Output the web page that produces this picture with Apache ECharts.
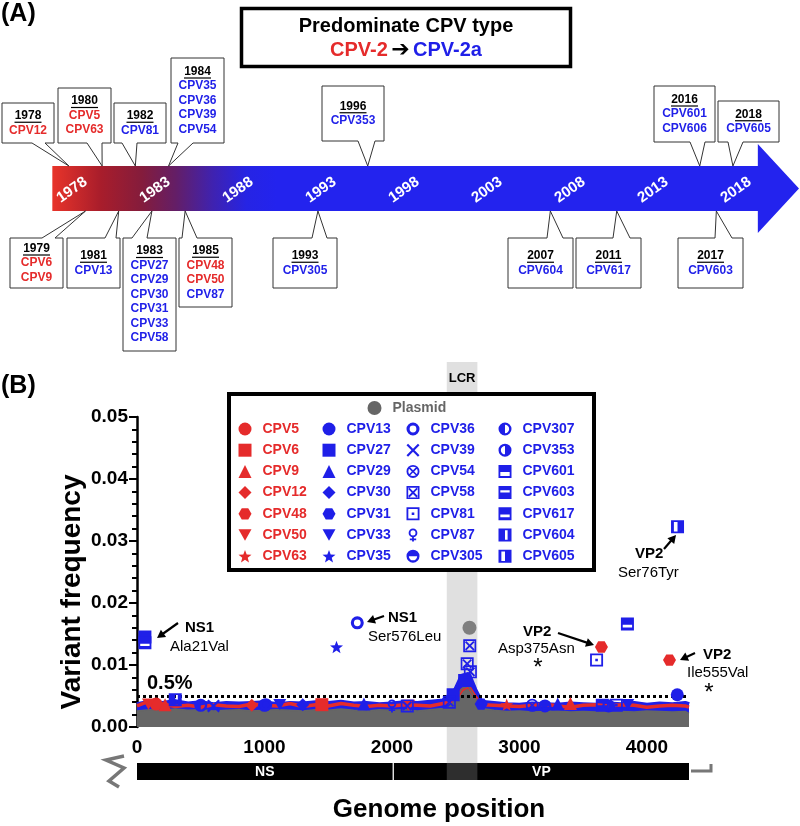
<!DOCTYPE html>
<html><head><meta charset="utf-8">
<script src="https://cdn.jsdelivr.net/npm/echarts@6/dist/echarts.min.js"></script>
<style>html,body{margin:0;padding:0;background:#fff}#c{width:800px;height:826px}</style>
</head><body><div id="c"></div>
<script>
// ================= DATA =================
// Panel A: timeline
const timelineSpan = [1977, 2019.5];
const timelineYears = [1978, 1983, 1988, 1993, 1998, 2003, 2008, 2013, 2018];
const calloutYears = [1978, 1980, 1982, 1984, 1996, 2016, 2018, 1979, 1981, 1983, 1985, 1993, 2007, 2011, 2017];
const calloutStrains = [
  ['CPV12'], ['CPV5', 'CPV63'], ['CPV81'], ['CPV35', 'CPV36', 'CPV39', 'CPV54'], ['CPV353'],
  ['CPV601', 'CPV606'], ['CPV605'], ['CPV6', 'CPV9'], ['CPV13'],
  ['CPV27', 'CPV29', 'CPV30', 'CPV31', 'CPV33', 'CPV58'], ['CPV48', 'CPV50', 'CPV87'],
  ['CPV305'], ['CPV604'], ['CPV617'], ['CPV603']
];
const cpv2Strains = ['CPV5', 'CPV6', 'CPV9', 'CPV12', 'CPV48', 'CPV50', 'CPV63'];

// Panel B: samples
const sampleNames = ['CPV5','CPV6','CPV9','CPV12','CPV48','CPV50','CPV63',
  'CPV13','CPV27','CPV29','CPV30','CPV31','CPV33','CPV35',
  'CPV36','CPV39','CPV54','CPV58','CPV81','CPV87','CPV305',
  'CPV307','CPV353','CPV601','CPV603','CPV617','CPV604','CPV605'];
// individual variant points (sample, genome position, frequency)
const pointSample = ['CPV601','CPV617','CPV35','CPV36','CPV58','CPV58','CPV58','CPV81','CPV48','CPV48','CPV617','CPV13','CPV605','CPV604',
  'CPV5','CPV6','CPV9','CPV9','CPV12','CPV50','CPV50','CPV63','CPV13','CPV27','CPV27','CPV29','CPV29','CPV30','CPV31','CPV33','CPV33',
  'CPV36','CPV39','CPV54','CPV58','CPV58','CPV81','CPV87','CPV305','CPV307','CPV353','CPV603'];
const pointPos = [62, 62, 1565, 1728, 2610, 2590, 2615, 3605, 3643, 4177, 3847, 4238, 4240, 300,
  150, 1450, 220, 3400, 900, 90, 2130, 2900, 1000, 2570, 2480, 1780, 3300, 1300, 2700, 1120, 3850,
  1010, 600, 3100, 2120, 2450, 3760, 2000, 3200, 500, 3700, 3650];
const pointVal = [0.0145, 0.0136, 0.0129, 0.0168, 0.0131, 0.0102, 0.0089, 0.0108, 0.0129, 0.0108, 0.0166, 0.0052, 0.0323, 0.0044,
  0.0037, 0.0036, 0.0036, 0.0038, 0.0035, 0.0037, 0.0035, 0.0036, 0.0035, 0.0075, 0.0052, 0.0037, 0.0037, 0.0036, 0.0037, 0.0036, 0.0036,
  0.0036, 0.0034, 0.0035, 0.0034, 0.0040, 0.0035, 0.0034, 0.0034, 0.0035, 0.0034, 0.0035];
const plasmidPointPos = [2608];
const plasmidPointVal = [0.0160];
// background noise envelopes along the genome
const noisePos = [0,100,200,300,400,500,600,700,800,900,1000,1100,1200,1300,1400,1500,1600,1700,1800,1900,2000,2100,2200,2300,2400,2450,2500,2550,2600,2650,2700,2800,2900,3000,3100,3200,3300,3400,3500,3600,3700,3800,3900,4000,4100,4200,4300,4330];
const plasmidVal = [0.0026,0.0028,0.0027,0.0029,0.0027,0.0028,0.0026,0.0027,0.0028,0.0026,0.0027,0.0028,0.0027,0.0026,0.0028,0.0027,0.0029,0.0027,0.0026,0.0028,0.0027,0.0028,0.0026,0.0028,0.0030,0.0032,0.0045,0.0062,0.0066,0.0048,0.0030,0.0027,0.0025,0.0026,0.0024,0.0025,0.0026,0.0024,0.0025,0.0024,0.0026,0.0025,0.0024,0.0026,0.0025,0.0024,0.0025,0.0022];
const blueNoiseVal = [0.0036,0.0040,0.0038,0.0041,0.0037,0.0039,0.0036,0.0038,0.0037,0.0038,0.0039,0.0036,0.0038,0.0037,0.0039,0.0038,0.0040,0.0037,0.0038,0.0036,0.0037,0.0039,0.0038,0.0040,0.0042,0.0050,0.0060,0.0082,0.0085,0.0060,0.0040,0.0038,0.0036,0.0035,0.0037,0.0036,0.0035,0.0037,0.0036,0.0035,0.0037,0.0036,0.0038,0.0035,0.0037,0.0036,0.0038,0.0036];
const redNoiseVal = [0.0034,0.0042,0.0037,0.0033,0.0035,0.0032,0.0036,0.0034,0.0033,0.0037,0.0035,0.0034,0.0038,0.0033,0.0036,0.0034,0.0038,0.0035,0.0033,0.0035,0.0034,0.0036,0.0035,0.0034,0.0038,0.0040,0.0045,0.0060,0.0066,0.0050,0.0036,0.0035,0.0034,0.0033,0.0035,0.0037,0.0034,0.0032,0.0035,0.0036,0.0034,0.0036,0.0035,0.0032,0.0034,0.0035,0.0034,0.0032];
const thresholdVal = 0.005;
const yTicks = [0, 0.01, 0.02, 0.03, 0.04, 0.05];
const xTicks = [0, 1000, 2000, 3000, 4000];
const genomeLength = 4330;
const regionNames = ['NS', 'VP'];
const regionStart = [0, 2015];
const regionEnd = [2005, 4330];
const lcrRange = [2430, 2670];

// ================= LAYOUT / STYLE =================
const RED = '#e52b2b', BLUE = '#1f1fe8', GREY = '#666666', FF = '"Liberation Sans", Arial, sans-serif';
const colorOf = n => cpv2Strains.includes(n) ? RED : BLUE;
// callout box geometry [x0,x1,y0,y1,baseL,baseR] (pixels)
const calloutBoxes = [
  [2,54,103,143,32,45],[58,111,88,143,87,102],[114,166,103,143,122,137],[171,224,58,143,178,193],
  [322,384,86,141,358,375],[654,715,86,142,690,705],[718,779,101,142,728,743],
  [10,63,238,288,42,55],[67,120,238,288,105,116],[123,176,238,351,132,147],[179,232,238,307,182,197],
  [273,337,238,288,312,327],[508,573,238,288,547,563],[576,641,238,288,613,630],[678,743,238,288,715,732]
];
const ARROW_TOP = 166, ARROW_BOT = 211;

function starPath() {
  let p = '';
  for (let k = 0; k < 10; k++) {
    const r = k % 2 ? 21 : 50, a = -Math.PI / 2 + k * Math.PI / 5;
    p += (k ? 'L' : 'M') + (50 + r * Math.cos(a)).toFixed(1) + ' ' + (50 + r * Math.sin(a)).toFixed(1);
  }
  return 'path://' + p + 'Z';
}
const SQ = 'M0 0L100 0L100 100L0 100Z';
const CIR = 'M50 0A50 50 0 1 1 50 100A50 50 0 1 1 50 0Z';
const hexagon = 'path://M25 0L75 0L100 43.5L75 87L25 87L0 43.5Z';
const downTri = 'path://M0 0L100 0L50 87Z';
const star = starPath();
const sampleSymbols = [
  'circle','rect','triangle','diamond',hexagon,downTri,star,
  'circle','rect','triangle','diamond',hexagon,downTri,star,
  'path://' + CIR + 'M50 24A26 26 0 1 0 50 76A26 26 0 1 0 50 24Z',
  'path://M0 12L12 0L50 38L88 0L100 12L62 50L100 88L88 100L50 62L12 100L0 88L38 50Z',
  'path://' + CIR + 'M50 14A36 36 0 1 0 50 86A36 36 0 1 0 50 14Z M18 27L27 18L50 41L73 18L82 27L59 50L82 73L73 82L50 59L27 82L18 73L41 50Z',
  'path://' + SQ + 'M13 13L13 87L87 87L87 13Z M13 23L23 13L50 40L77 13L87 23L60 50L87 77L77 87L50 60L23 87L13 77L40 50Z',
  'path://' + SQ + 'M14 14L14 86L86 86L86 14Z M40 40L60 40L60 60L40 60Z',
  'path://M50 2A33 33 0 1 1 50 68A33 33 0 1 1 50 2Z M50 16A19 19 0 1 0 50 54A19 19 0 1 0 50 16Z M43 64L57 64L57 100L43 100Z M26 78L74 78L74 90L26 90Z',
  'path://' + CIR + 'M18 50A32 32 0 0 0 82 50Z',
  'path://' + CIR + 'M50 82A32 32 0 0 0 50 18Z',
  'path://' + CIR + 'M50 18A32 32 0 0 0 50 82Z',
  'path://' + SQ + 'M14 54L14 86L86 86L86 54Z',
  'path://' + SQ + 'M14 32L14 50L86 50L86 32Z',
  'path://' + SQ + 'M14 56L14 76L86 76L86 56Z',
  'path://' + SQ + 'M50 14L50 86L70 86L70 14Z',
  'path://' + SQ + 'M22 14L22 86L50 86L50 14Z'
];

function arrowEls(x1, y1, x2, y2) {
  const dx = x2 - x1, dy = y2 - y1, L = Math.hypot(dx, dy), ux = dx / L, uy = dy / L;
  const hl = 8, hw = 4.5;
  const bx = x2 - ux * hl, by = y2 - uy * hl;
  return [
    { type: 'line', z: 20, shape: { x1, y1, x2: bx + ux * 2, y2: by + uy * 2 }, style: { stroke: '#000', lineWidth: 2.2 } },
    { type: 'polygon', z: 20, shape: { points: [[x2, y2], [bx - uy * hw, by + ux * hw], [bx + uy * hw, by - ux * hw]] }, style: { fill: '#000' } }
  ];
}
function txt(text, x, y, size, weight, opts) {
  return Object.assign({ type: 'text', z: 20, x, y, style: Object.assign({ text, fill: '#000', font: weight + ' ' + size + 'px ' + FF, align: 'left', verticalAlign: 'middle' }, opts || {}) });
}

// ================= CHART =================
const chart = echarts.init(document.getElementById('c'), null, { renderer: 'canvas' });

const sampleSeries = sampleNames.map((n, k) => ({
  type: 'scatter', name: n, xAxisIndex: 1, yAxisIndex: 1, z: 5, silent: true,
  symbol: sampleSymbols[k], symbolSize: 13, symbolKeepAspect: true,
  itemStyle: { color: colorOf(n), opacity: 1 },
  data: pointSample.map((s, i) => s === n ? [pointPos[i], pointVal[i]] : null).filter(Boolean)
}));

const legendLeft = [238.5, 322.5, 406.5, 498.5];
const legendCols = [0, 7, 14, 21].map(s => sampleNames.slice(s, s + 7));
const legTextStyle = { fontSize: 14, fontWeight: 'bold', fontFamily: FF, padding: [0, 0, 0, 6] };

const option = {
  animation: false,
  textStyle: { fontFamily: FF },
  grid: [
    { left: 52, right: 0, top: 0, height: 355 },
    { left: 137, width: 552, top: 417, height: 310 }
  ],
  xAxis: [
    { gridIndex: 0, type: 'value', min: 1976.98, max: 2022.04, show: false },
    { gridIndex: 1, type: 'value', min: 0, max: genomeLength, interval: 1000,
      axisLine: { show: false }, axisTick: { show: false }, splitLine: { show: false },
      axisLabel: { showMaxLabel: false, margin: 11, color: '#000', fontWeight: 'bold', fontSize: 19, fontFamily: FF,
        formatter: v => xTicks.includes(v) ? String(v) : '' } }
  ],
  yAxis: [
    { gridIndex: 0, type: 'value', min: 0, max: 355, inverse: true, show: false },
    { gridIndex: 1, type: 'value', min: yTicks[0], max: yTicks[yTicks.length - 1], interval: 0.01,
      axisLine: { show: true, lineStyle: { color: '#000', width: 2.5 } },
      axisTick: { show: true, length: 8, lineStyle: { color: '#000', width: 2 } },
      minorTick: { show: true, splitNumber: 5, length: 5, lineStyle: { color: '#000', width: 2 } },
      splitLine: { show: false }, minorSplitLine: { show: false },
      axisLabel: { margin: 9, color: '#000', fontWeight: 'bold', fontSize: 19, fontFamily: FF, formatter: v => v.toFixed(2) } }
  ],
  legend: [
    { selectedMode: false, left: 367.5, top: 401, padding: 0, itemWidth: 14, itemHeight: 14, z: 8,
      textStyle: Object.assign({}, legTextStyle, { color: GREY }),
      data: [{ name: 'Plasmid', icon: 'circle', itemStyle: { color: GREY } }] }
  ].concat(legendCols.map((col, k) => ({
    selectedMode: false, orient: 'vertical', left: legendLeft[k], top: 422, padding: 0, itemGap: 7.2,
    itemWidth: 13, itemHeight: 13, z: 8, textStyle: legTextStyle,
    data: col.map(n => ({ name: n, textStyle: { color: colorOf(n) } }))
  }))),
  series: [
    // timeline arrow
    { type: 'custom', xAxisIndex: 0, yAxisIndex: 0, silent: true, z: 1, data: [timelineSpan],
      renderItem(params, api) {
        const x0 = api.coord([api.value(0), 0])[0], xh = api.coord([api.value(1), 0])[0];
        const xEnd = params.coordSys.x + params.coordSys.width - 1;
        const mid = (ARROW_TOP + ARROW_BOT) / 2;
        return { type: 'polygon', shape: { points: [[x0, ARROW_TOP], [xh, ARROW_TOP], [xh, 144], [xEnd, mid], [xh, 233], [xh, ARROW_BOT], [x0, ARROW_BOT]] },
          style: { fill: { type: 'linear', x: 0, y: 0, x2: 1, y2: 0, colorStops: [
            { offset: 0, color: '#e8342a' }, { offset: 0.065, color: '#a81d2b' }, { offset: 0.12, color: '#841c3c' },
            { offset: 0.165, color: '#641e66' }, { offset: 0.215, color: '#3f22b0' }, { offset: 0.26, color: '#2624e4' },
            { offset: 0.3, color: '#2323ee' }, { offset: 1, color: '#2323ee' } ] } } };
      } },
    // year labels on arrow
    { type: 'custom', xAxisIndex: 0, yAxisIndex: 0, silent: true, z: 2, data: timelineYears.map(y => [y]),
      renderItem(params, api) {
        const x = api.coord([api.value(0), 0])[0] + 3;
        return { type: 'text', x, y: 190, rotation: 35 * Math.PI / 180,
          style: { text: String(api.value(0)), fill: '#fff', font: 'bold 15px ' + FF, align: 'center', verticalAlign: 'middle' } };
      } },
    // callouts
    { type: 'custom', xAxisIndex: 0, yAxisIndex: 0, silent: true, z: 3, data: calloutYears.map((y, i) => [y, i]),
      renderItem(params, api) {
        const year = api.value(0), i = api.value(1);
        const [x0, x1, y0, y1, bL, bR] = calloutBoxes[i];
        const tip = api.coord([year, 0])[0];
        const above = y1 < ARROW_TOP;
        const pts = above
          ? [[x0, y0], [x1, y0], [x1, y1], [bR, y1], [tip, ARROW_TOP], [bL, y1], [x0, y1]]
          : [[x0, y0], [bL, y0], [tip, ARROW_BOT], [bR, y0], [x1, y0], [x1, y1], [x0, y1]];
        const lines = [String(year)].concat(calloutStrains[i]);
        const lh = 14.5, cx = (x0 + x1) / 2, sy = (y0 + y1) / 2 - (lines.length - 1) * lh / 2;
        const children = [{ type: 'polygon', shape: { points: pts }, style: { fill: '#fff', stroke: '#333', lineWidth: 1 } }];
        lines.forEach((t, k) => {
          children.push({ type: 'text', x: cx, y: sy + k * lh,
            style: { text: t, fill: k === 0 ? '#000' : colorOf(t), font: 'bold 12px ' + FF, align: 'center', verticalAlign: 'middle' } });
        });
        children.push({ type: 'line', shape: { x1: cx - 13.5, y1: sy + 6.5, x2: cx + 13.5, y2: sy + 6.5 }, style: { stroke: '#000', lineWidth: 1.2 } });
        return { type: 'group', children };
      } },
    // genome map bar + ends
    { type: 'custom', xAxisIndex: 1, yAxisIndex: 1, silent: true, z: 1, data: regionNames.map((n, i) => [regionStart[i], regionEnd[i], i]),
      renderItem(params, api) {
        const a = api.coord([api.value(0), 0])[0], b = api.coord([api.value(1), 0])[0], i = api.value(2);
        const top = 763, bot = 780;
        const ch = [
          { type: 'rect', shape: { x: a, y: top, width: b - a, height: bot - top }, style: { fill: '#000' } },
          { type: 'text', x: (a + b) / 2, y: (top + bot) / 2 + 0.5, style: { text: regionNames[i], fill: '#fff', font: 'bold 14px ' + FF, align: 'center', verticalAlign: 'middle' } }
        ];
        if (i === 0) ch.push({ type: 'polyline', shape: { points: [[a - 13, 756], [a - 31, 760], [a - 13, 768], [a - 28, 781], [a - 18, 787]] }, style: { stroke: '#777', lineWidth: 3.5, fill: null } });
        if (i === regionNames.length - 1) ch.push({ type: 'polyline', shape: { points: [[b + 2, 771], [b + 22, 771], [b + 22, 764]] }, style: { stroke: '#777', lineWidth: 3, fill: null } });
        return { type: 'group', children: ch };
      } },
    // LCR band
    { type: 'custom', xAxisIndex: 1, yAxisIndex: 1, silent: true, z: 2, data: [lcrRange],
      renderItem(params, api) {
        const a = api.coord([api.value(0), 0])[0], b = api.coord([api.value(1), 0])[0];
        return { type: 'group', children: [
          { type: 'rect', shape: { x: a, y: 362, width: b - a, height: 780 - 362 }, style: { fill: 'rgba(151,151,151,0.3)' } },
          { type: 'text', x: (a + b) / 2, y: 378, style: { text: 'LCR', fill: '#000', font: 'bold 13px ' + FF, align: 'center', verticalAlign: 'middle' } }
        ] };
      } },
    // noise background
    { type: 'line', name: 'blueNoise', xAxisIndex: 1, yAxisIndex: 1, z: 3, silent: true, symbol: 'none',
      lineStyle: { color: BLUE, width: 5 }, areaStyle: { color: BLUE, opacity: 1 },
      data: noisePos.map((p, i) => [p, blueNoiseVal[i]]) },
    { type: 'line', name: 'redNoise', xAxisIndex: 1, yAxisIndex: 1, z: 3, silent: true, symbol: 'none',
      lineStyle: { color: RED, width: 3.5 },
      data: noisePos.map((p, i) => [p, redNoiseVal[i]]) },
    { type: 'line', name: 'Plasmid', xAxisIndex: 1, yAxisIndex: 1, z: 3, silent: true, symbol: 'none',
      lineStyle: { color: GREY, width: 1.5 }, areaStyle: { color: GREY, opacity: 1 },
      data: noisePos.map((p, i) => [p, plasmidVal[i]]),
      markLine: { silent: true, symbol: 'none', precision: 4, label: { show: false }, lineStyle: { color: '#000', type: [3, 3], width: 3 },
        data: [{ yAxis: thresholdVal }] } },
    { type: 'scatter', name: 'Plasmid', xAxisIndex: 1, yAxisIndex: 1, z: 5, silent: true, symbol: 'circle', symbolSize: 14,
      itemStyle: { color: GREY }, data: plasmidPointPos.map((p, i) => [p, plasmidPointVal[i]]) }
  ].concat(sampleSeries),
  graphic: [
    txt('(A)', 1, 14, 25, 'bold'),
    { type: 'rect', z: 10, shape: { x: 241.5, y: 8.5, width: 329, height: 58 }, style: { fill: '#fff', stroke: '#000', lineWidth: 3.5 } },
    txt('Predominate CPV type', 406, 26, 20, 'bold', { align: 'center' }),
    { type: 'text', z: 20, x: 406, y: 50, style: { text: '{r|CPV-2} {a|➔} {b|CPV-2a}', align: 'center', verticalAlign: 'middle',
      rich: { r: { fill: RED, font: 'bold 20px ' + FF }, a: { fill: '#000', font: 'bold 22px "DejaVu Sans"' }, b: { fill: BLUE, font: 'bold 20px ' + FF } } } },
    txt('(B)', 1, 386, 25, 'bold'),
    { type: 'rect', z: 4, shape: { x: 229, y: 394, width: 365, height: 176 }, style: { fill: '#fff', stroke: '#000', lineWidth: 4 } },
    { type: 'text', z: 20, x: 72, y: 592, rotation: Math.PI / 2, style: { text: 'Variant frequency', fill: '#000', font: 'bold 28px ' + FF, align: 'center', verticalAlign: 'middle' } },
    txt('Genome position', 439, 810, 26, 'bold', { align: 'center' }),
    txt('0.5%', 147, 683, 20, 'bold'),
    txt('NS1', 185, 628, 15, 'bold'), txt('Ala21Val', 170, 647, 15, 'normal'),
    txt('NS1', 388, 618, 15, 'bold'), txt('Ser576Leu', 368, 637, 15, 'normal'),
    txt('VP2', 523, 632, 15, 'bold'), txt('Asp375Asn', 498, 649, 15, 'normal'), txt('*', 538, 668, 24, 'normal', { align: 'center' }),
    txt('VP2', 703, 655, 15, 'bold'), txt('Ile555Val', 687, 673, 15, 'normal'), txt('*', 709, 693, 24, 'normal', { align: 'center' }),
    txt('VP2', 635, 554, 15, 'bold'), txt('Ser76Tyr', 618, 573, 15, 'normal')
  ].concat(arrowEls(178, 623, 157, 638), arrowEls(384, 616, 367, 622), arrowEls(558, 633, 594, 645),
           arrowEls(695, 653, 680, 660), arrowEls(664, 549, 676, 535))
};
chart.setOption(option);
</script>
</body></html>
